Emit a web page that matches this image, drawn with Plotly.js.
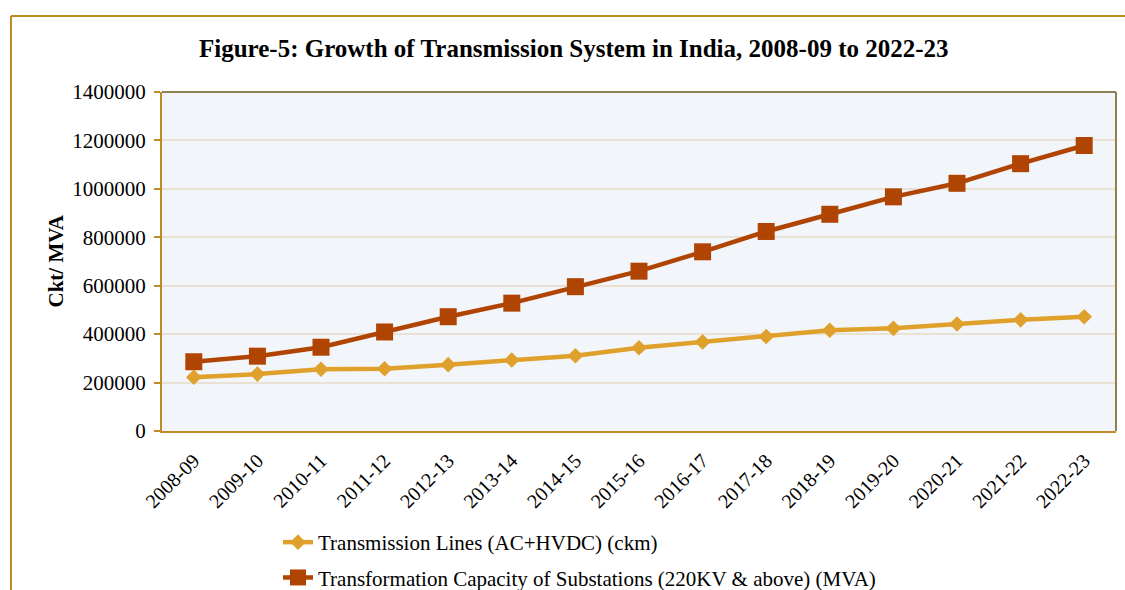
<!DOCTYPE html>
<html>
<head>
<meta charset="utf-8">
<script src="https://cdn.plot.ly/plotly-3.0.1.min.js"></script>
<style>
  body { margin: 0; background: #fff; }
  #chart { width: 1125px; height: 590px; }
</style>
</head>
<body>
<div id="chart"></div>
<script>
var years = ["2008-09", "2009-10", "2010-11", "2011-12", "2012-13", "2013-14", "2014-15",
  "2015-16", "2016-17", "2017-18", "2018-19", "2019-20", "2020-21", "2021-22", "2022-23"];
var lines = [222000, 235000, 255000, 257000, 274000, 293000, 311000, 344000,
  368000, 390000, 416000, 424000, 442000, 459000, 472000];
var capacity = [286000, 309000, 346000, 409000, 472000, 528000, 596000, 660000,
  740000, 824000, 895000, 967000, 1023000, 1104000, 1179000];
var yTicks = [0, 200000, 400000, 600000, 800000, 1000000, 1200000, 1400000];

var serif = "Liberation Serif, Times New Roman, serif";

var data = [
  {
    x: years,
    y: lines,
    name: "Transmission Lines (AC+HVDC) (ckm)",
    legendgroup: "a",
    type: "scatter",
    mode: "lines+markers",
    line: { color: "#dfa12b", width: 4.5 },
    marker: { symbol: "diamond", size: 12, color: "#dfa12b" },
  },
  {
    x: years,
    y: capacity,
    name: "Transformation Capacity of Substations (220KV & above) (MVA)",
    legendgroup: "b",
    type: "scatter",
    mode: "lines+markers",
    line: { color: "#b04503", width: 4.5 },
    marker: { symbol: "square", size: 17, color: "#b04503" },
  },
];

var layout = {
  width: 1125,
  height: 590,
  margin: { l: 162, r: 9, t: 92, b: 159, autoexpand: false },
  paper_bgcolor: "#ffffff",
  plot_bgcolor: "#f2f5fa",
  font: { family: serif, color: "#000", size: 20 },
  title: {
    text: "<b>Figure-5: Growth of Transmission System in India, 2008-09 to 2022-23</b>",
    font: { family: serif, size: 25, color: "#000" },
    xref: "container", x: 0.51, xanchor: "center",
    yref: "container", y: 0.918, yanchor: "middle",
  },
  xaxis: {
    type: "category",
    automargin: false,
    range: [-0.5, years.length - 0.5],
    tickangle: -45,
    showgrid: false,
    showline: true,
    linecolor: "#c0892a",
    linewidth: 2,
    ticks: "",
    ticklabelstandoff: 8,
    tickfont: { family: serif, size: 20, color: "#000" },
  },
  yaxis: {
    automargin: false,
    range: [0, 1400000],
    tickvals: yTicks,
    ticktext: yTicks.map(String),
    showgrid: true,
    gridcolor: "#e9e1d3",
    gridwidth: 2,
    zeroline: false,
    showline: true,
    linecolor: "#c0892a",
    linewidth: 2,
    ticks: "outside",
    ticklen: 6,
    tickwidth: 2,
    tickcolor: "#c0892a",
    ticklabelstandoff: 4,
    tickfont: { family: serif, size: 21, color: "#000" },
  },
  showlegend: true,
  legend: {
    xref: "container", x: 278 / 1125, xanchor: "left",
    yref: "container", y: 1 - 522 / 590, yanchor: "top",
    bgcolor: "rgba(0,0,0,0)",
    font: { family: serif, size: 21, color: "#000" },
    tracegroupgap: 5,
  },
  annotations: [
    {
      text: "<b>Ckt/ MVA</b>",
      xref: "paper", yref: "paper",
      x: (55 - 162) / 954, y: 0.5,
      xanchor: "center", yanchor: "middle",
      textangle: -90,
      showarrow: false,
      font: { family: serif, size: 21, color: "#000" },
    },
  ],
  shapes: [
    // plot border (top and right)
    { type: "line", xref: "paper", yref: "paper", x0: 0, x1: 1, y0: 1, y1: 1,
      line: { color: "#8c8150", width: 2 } },
    { type: "line", xref: "paper", yref: "paper", x0: 1, x1: 1, y0: 0, y1: 1,
      line: { color: "#8c8150", width: 2 } },
    // outer frame (left and top visible)
    { type: "line", xref: "paper", yref: "paper",
      x0: (11 - 162) / 954, x1: 1.1, y0: (431 - 16) / 339, y1: (431 - 16) / 339,
      line: { color: "#bf8a1e", width: 2 } },
    { type: "line", xref: "paper", yref: "paper",
      x0: (11 - 162) / 954, x1: (11 - 162) / 954, y0: (431 - 16) / 339, y1: -0.6,
      line: { color: "#bf8a1e", width: 2 } },
  ],
};

Plotly.newPlot("chart", data, layout, { displayModeBar: false, staticPlot: true });
</script>
</body>
</html>
